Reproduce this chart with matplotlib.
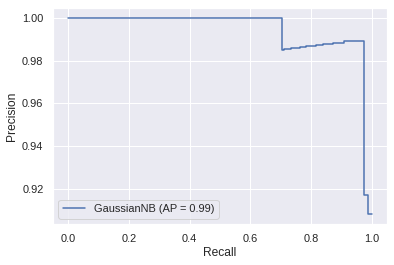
import matplotlib
matplotlib.use("Agg")
from matplotlib import pyplot as plt
import seaborn as sns

sns.set_theme()
plt.rcParams['font.family'] = ['Liberation Sans', 'DejaVu Sans']

# right edge of each step (recall) and the precision level over that step
recall = [0.0, 0.705, 0.712, 0.734, 0.762, 0.784, 0.816, 0.838, 0.871, 0.909, 0.975, 0.988, 1.0]
precision = [1.0, 1.0, 0.9848, 0.9853, 0.9857, 0.9862, 0.9867, 0.9872, 0.9876, 0.9882, 0.9890, 0.9169, 0.908]
label = "GaussianNB (AP = 0.99)"

fig = plt.figure(figsize=(394 / 72, 265 / 72), dpi=72)
ax = fig.add_axes([53 / 394, 41 / 265, 334 / 394, 216 / 265])
ax.plot(recall, precision, drawstyle="steps-pre", label=label)
ax.set_xlabel("Recall")
ax.set_ylabel("Precision")
ax.legend(loc="lower left")
fig.savefig("out.png", dpi=72)
